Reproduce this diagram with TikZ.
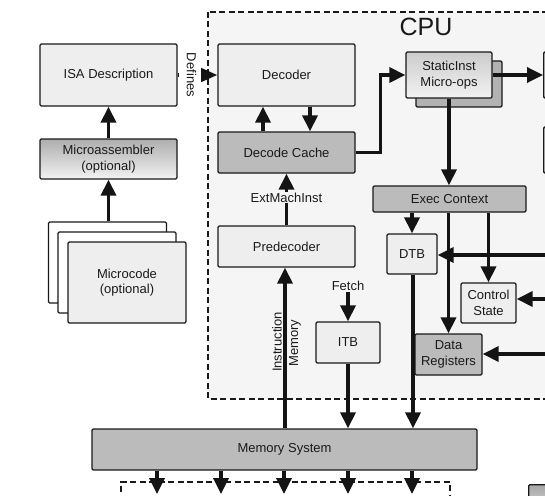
\documentclass[tikz,border=0pt]{standalone}
\usepackage{fontspec}
\setmainfont{Liberation Sans}
\usetikzlibrary{arrows.meta,shadings}
\definecolor{boxlight}{HTML}{EEEEEE}
\definecolor{boxdark}{HTML}{BBBBBB}
\definecolor{cpubg}{HTML}{F5F5F5}
\definecolor{txt}{HTML}{1A1A1A}
\tikzset{
  box/.style={draw=black!90, line width=1.3pt, rounded corners=1.2pt, align=center,
    inner sep=0pt, text=txt, font=\fontsize{13}{15.5}\selectfont},
  light/.style={box, fill=boxlight},
  dark/.style={box, fill=boxdark},
  grad/.style={box, top color=#1, bottom color=white!95!black},
  arr/.style={draw=black!92, line width=3.4pt, -{Triangle[length=16pt,width=15pt]}},
  lbl/.style={text=txt, font=\fontsize{13}{15.5}\selectfont, inner sep=1pt},
  dashbox/.style={draw=black!90, line width=1.2pt, dash pattern=on 6pt off 3.5pt}
}
\begin{document}
\begin{tikzpicture}[x=1pt,y=-1pt]
\useasboundingbox (0,0) rectangle (545,495);
\clip (0,0) rectangle (545,495);
\fill[white] (0,0) rectangle (545,495);

% CPU region
\filldraw[dashbox, fill=cpubg] (208,12) rectangle (580,399);
\node[text=black!90, font=\fontsize{25}{28}\selectfont] (cputitle) at (426,27) {CPU};

% Left column
\node[light, minimum width=137pt, minimum height=62pt] (isa) at (108.5,75) {ISA Description};
\node[grad=black!32, minimum width=137pt, minimum height=40pt] (masm) at (108.5,159) {Microassembler\\(optional)};
\node[box, fill=white, minimum width=118pt, minimum height=81pt] (mc3) at (107.5,262.5) {};
\node[box, fill=white, minimum width=118pt, minimum height=81pt] (mc2) at (117,272.5) {};
\node[light, minimum width=118pt, minimum height=81pt] (mc1) at (127,282.5) {Microcode\\(optional)};

% CPU internals
\node[light, minimum width=137pt, minimum height=62pt] (decoder) at (286.5,75) {Decoder};
\node[dark, minimum width=137pt, minimum height=41pt] (dcache) at (286.5,152.5) {Decode Cache};
\node[light, minimum width=137pt, minimum height=41pt] (predec) at (286.5,246.5) {Predecoder};
\node[box, fill=black!30, minimum width=86pt, minimum height=46pt] (staticb) at (459,84) {};
\node[grad=black!20, minimum width=86pt, minimum height=46pt] (static) at (449,75) {StaticInst\\Micro-ops};
\node[dark, minimum width=153pt, minimum height=26pt] (exec) at (449.5,199) {Exec Context};
\node[light, minimum width=50pt, minimum height=40pt] (dtb) at (412,254) {DTB};
\node[light, minimum width=55pt, minimum height=40pt] (ctrl) at (488.5,303) {Control\\State};
\node[dark, minimum width=67pt, minimum height=41pt] (dreg) at (448.5,354.5) {Data\\Registers};
\node[light, minimum width=64pt, minimum height=41pt] (itb) at (348,342.5) {ITB};
\node[lbl] (fetch) at (348,286) {Fetch};

% right-edge boxes (cut off)
\node[light, minimum width=60pt, minimum height=46pt, anchor=west] (r1) at (543,75) {};
\node[light, minimum width=60pt, minimum height=46pt, anchor=west] (r2) at (543,150) {};

% Memory system and below
\node[dark, minimum width=385pt, minimum height=41pt] (mem) at (284.5,449.5) {Memory System};
\draw[dashbox] (121,530) -- (121,482) -- (450,482) -- (450,530);
\node[grad=black!35, minimum width=60pt, minimum height=40pt, anchor=north west] (br) at (528,484) {};

% connectors
\draw[arr] (masm.north) -- (isa.south);
\draw[arr] (mc3.north -| masm.south) -- (masm.south);
\draw[draw=black!92, line width=3.4pt, dash pattern=on 3pt off 2.5pt] (isa.east) -- ([xshift=-16pt]decoder.west);
\draw[arr, -{Triangle[length=18pt,width=15pt]}] ([xshift=-19pt]decoder.west) -- (decoder.west);
\node[lbl, rotate=-90, inner sep=0pt] (deflbl) at (190,75) {\colorbox{white}{\strut Defines}};

\draw[arr] ([xshift=-23.5pt]dcache.north) -- ([xshift=-23.5pt]decoder.south);
\draw[arr] ([xshift=23.5pt]decoder.south) -- ([xshift=23.5pt]dcache.north);
\draw[arr] (predec.north) -- (dcache.south) node[lbl, midway, fill=cpubg, yshift=2pt] (extlbl) {ExtMachInst};
\draw[arr] ([xshift=-1.5pt]predec.south |- mem.north) -- ([xshift=-1.5pt]predec.south);
\node[lbl, rotate=90] (instlbl) at (277,342) {Instruction};
\node[lbl, rotate=90] (memlbl) at (295,343) {Memory};

\draw[arr, rounded corners=0pt] (dcache.east) -- ++(25,0) |- (static.west);
\draw[arr] (static.east) -- (r1.west);
\draw[arr] (static.south) -- (static.south |- exec.north);
\draw[arr] (dtb.north |- exec.south) -- (dtb.north);
\draw[arr] (dreg.north |- exec.south) -- (dreg.north);
\draw[arr] (ctrl.north |- exec.south) -- (ctrl.north);

\coordinate (rin1) at (560,255);
\coordinate (rin2) at (560,299);
\coordinate (rin3) at (560,354);
\draw[arr] (rin1) -- (rin1 -| dtb.east);
\draw[arr] (rin2) -- (rin2 -| ctrl.east);
\draw[arr] (rin3) -- (rin3 -| dreg.east);

\draw[arr] (fetch.south) -- (itb.north);
\draw[arr] (itb.south) -- (itb.south |- mem.north);
\draw[arr] ([xshift=1pt]dtb.south) -- ([xshift=1pt]dtb.south |- mem.north);

\foreach \xx/\nm in {157/o1,221/o2,284/o3,348/o4,412/o5}{
  \coordinate (\nm) at (\xx,494);
  \draw[arr] (mem.south -| \nm) -- (\nm);
}
\end{tikzpicture}
\end{document}
